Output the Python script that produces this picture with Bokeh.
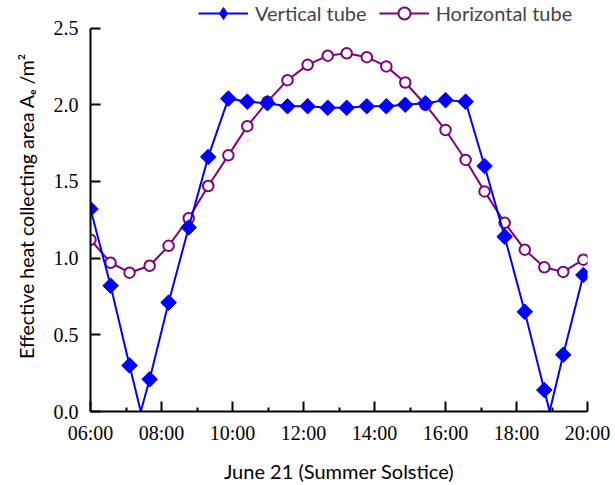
from bokeh.plotting import figure
from bokeh.models import (Range1d, FixedTicker, PrintfTickFormatter, Legend, LegendItem)
from bokeh.embed import file_html
from bokeh.resources import INLINE
import numpy as np

# ---- data ----
times = ["06:00", "06:34", "07:06", "07:40", "08:12", "08:46", "09:19", "09:53",
         "10:25", "10:59", "11:33", "12:07", "12:41", "13:13", "13:47", "14:20",
         "14:52", "15:26", "16:00", "16:34", "17:06", "17:40", "18:14", "18:47",
         "19:19", "19:53"]
vertical_tube = [1.32, 0.82, 0.30, 0.21, 0.71, 1.20, 1.66, 2.04, 2.02, 2.01, 1.99, 1.99,
                 1.98, 1.98, 1.99, 1.99, 2.00, 2.01, 2.03, 2.02, 1.60, 1.14, 0.65, 0.14,
                 0.37, 0.89]
horizontal_tube = [1.12, 0.97, 0.905, 0.95, 1.08, 1.26, 1.47, 1.67, 1.86, 2.02, 2.16, 2.26,
                   2.32, 2.335, 2.31, 2.25, 2.145, 2.00, 1.835, 1.64, 1.435, 1.23, 1.055,
                   0.94, 0.91, 0.99]
# points where the vertical-tube curve touches zero (no marker)
vertical_zero_times = ["07:25", "18:56"]
vertical_zero_values = [0.0, 0.0]

x_ticks = [6, 8, 10, 12, 14, 16, 18, 20]
x_minor_ticks = [7, 9, 11, 13, 15, 17, 19]
x_tick_labels = ["06:00", "08:00", "10:00", "12:00", "14:00", "16:00", "18:00", "20:00"]
y_ticks = [0.0, 0.5, 1.0, 1.5, 2.0, 2.5]


def to_hours(s):
    h, m = s.split(":")
    return int(h) + int(m) / 60.0


tx = [to_hours(t) for t in times]
zx = [to_hours(t) for t in vertical_zero_times]
line_pairs = sorted(list(zip(tx, vertical_tube)) + list(zip(zx, vertical_zero_values)))
vline_x = [a for a, b in line_pairs]
vline_y = [b for a, b in line_pairs]

BLUE = "#0000FF"
PURPLE = "#800080"

# frame: 0..2.5 occupies 390px; the strip above 2.5 holds the legend
p = figure(width=615, height=485, output_backend="svg", toolbar_location=None,
           x_range=Range1d(6, 20), y_range=Range1d(0, 2.5 * 418 / 390), title=None,
           min_border_left=90, min_border_right=28, min_border_top=0, min_border_bottom=67)
p.outline_line_color = None
p.xgrid.visible = False
p.ygrid.visible = False
p.background_fill_color = "white"

# horizontal tube (drawn first, under)
hl = p.line(tx, horizontal_tube, line_color=PURPLE, line_width=2)
hm = p.scatter(tx, horizontal_tube, marker="circle", size=10.5, fill_color="white",
               line_color=PURPLE, line_width=2)
# vertical tube
vl = p.line(vline_x, vline_y, line_color=BLUE, line_width=2)
vm = p.scatter(tx, vertical_tube, marker="square", angle=np.pi / 4, size=11,
               fill_color=BLUE, line_color=BLUE, line_width=1)
# hidden twin of the diamonds, used only as the legend key (legend keys ignore angle)
vm_key = p.scatter(tx, vertical_tube, marker="diamond", size=11, fill_color=BLUE,
                   line_color=BLUE, line_width=1, visible=False)

# axes
for ax in (p.xaxis[0], p.yaxis[0]):
    ax.axis_line_width = 2
    ax.axis_line_color = "black"
    ax.major_tick_line_width = 2
    ax.major_tick_line_color = "black"
    ax.minor_tick_line_width = 2
    ax.minor_tick_line_color = "black"
    ax.major_tick_in = 10
    ax.major_tick_out = 0
    ax.minor_tick_in = 4
    ax.minor_tick_out = 0
    ax.major_label_text_font = "Liberation Serif"
    ax.major_label_text_font_size = "20px"
    ax.major_label_text_color = "black"
    ax.axis_label_text_font = "Lato"
    ax.axis_label_text_font_style = "normal"
    ax.axis_label_text_color = "black"

p.xaxis.ticker = FixedTicker(ticks=x_ticks, minor_ticks=x_minor_ticks)
p.xaxis.major_label_overrides = {t: lab for t, lab in zip(x_ticks, x_tick_labels)}
p.xaxis.major_label_standoff = 10
p.xaxis.axis_label = "June 21 (Summer Solstice)"
p.xaxis.axis_label_text_font_size = "20px"
p.xaxis.axis_label_standoff = 12

p.yaxis.ticker = FixedTicker(ticks=y_ticks, minor_ticks=[])
p.yaxis.formatter = PrintfTickFormatter(format="%.1f")
p.yaxis.bounds = (0, 2.5)
p.yaxis.major_label_standoff = 12
p.yaxis.axis_label = "Effective heat collecting area A\u2091 /m\u00b2"
p.yaxis.axis_label_text_font_size = "19.5px"
p.yaxis.axis_label_standoff = 13

# legend in the strip above 2.5
legend = Legend(items=[LegendItem(label="Vertical tube", renderers=[vl, vm_key]),
                       LegendItem(label="Horizontal tube", renderers=[hl, hm])],
                orientation="horizontal", location=(108, 383),
                glyph_width=50, glyph_height=30, label_standoff=7, spacing=12,
                padding=0, margin=0, border_line_color=None, background_fill_alpha=0,
                label_text_font="Lato", label_text_font_size="20px", label_height=30)
p.add_layout(legend, "center")

open("out.html", "w").write(file_html(p, INLINE))
